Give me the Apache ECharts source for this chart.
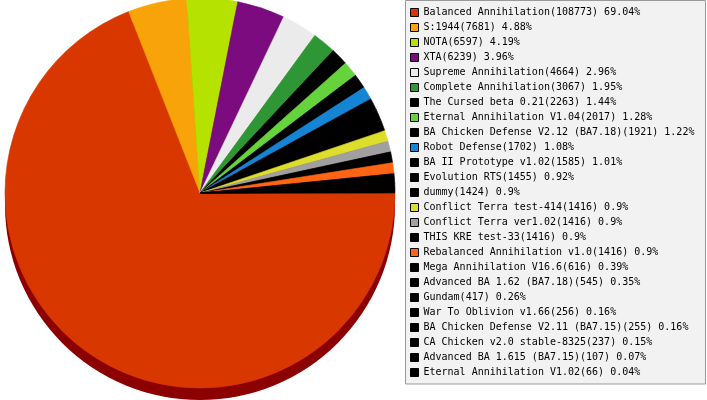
<!DOCTYPE html>
<html>
<head>
<meta charset="utf-8">
<script src="https://cdn.jsdelivr.net/npm/echarts@6/dist/echarts.min.js"></script>
<style>html,body{margin:0;padding:0;background:#fff}#c{width:707px;height:400px}</style>
</head>
<body>
<div id="c"></div>
<script>
const names = [
  'Balanced Annihilation', 'S:1944', 'NOTA', 'XTA', 'Supreme Annihilation',
  'Complete Annihilation', 'The Cursed beta 0.21', 'Eternal Annihilation V1.04',
  'BA Chicken Defense V2.12 (BA7.18)', 'Robot Defense', 'BA II Prototype v1.02',
  'Evolution RTS', 'dummy', 'Conflict Terra test-414', 'Conflict Terra ver1.02',
  'THIS KRE test-33', 'Rebalanced Annihilation v1.0', 'Mega Annihilation V16.6',
  'Advanced BA 1.62 (BA7.18)', 'Gundam', 'War To Oblivion v1.66',
  'BA Chicken Defense V2.11 (BA7.15)', 'CA Chicken v2.0 stable-8325',
  'Advanced BA 1.615 (BA7.15)', 'Eternal Annihilation V1.02'
];
const values = [
  108773, 7681, 6597, 6239, 4664, 3067, 2263, 2017, 1921, 1702, 1585, 1455, 1424,
  1416, 1416, 1416, 1416, 616, 545, 417, 256, 255, 237, 107, 66
];
const colors = [
  '#d93700', '#f9a30a', '#b6e200', '#7b0b7e', '#ebebeb', '#2e9634', '#000000',
  '#65d43c', '#000000', '#1385d4', '#000000', '#000000', '#000000', '#dddd2b',
  '#a0a0a0', '#000000', '#ff6512', '#000000', '#000000', '#000000', '#000000',
  '#000000', '#000000', '#000000', '#000000'
];

const total = values.reduce((a, b) => a + b, 0);
const byName = {};
names.forEach((n, i) => { byName[n] = values[i]; });

const chart = echarts.init(document.getElementById('c'), null, { renderer: 'canvas' });
chart.setOption({
  animation: false,
  graphic: [{
    type: 'rect', z: 0, silent: true,
    shape: { x: 405.5, y: 0.5, width: 300, height: 383.5 },
    style: { fill: '#f2f2f2', stroke: '#999999', lineWidth: 1 }
  }],
  legend: {
    orient: 'vertical',
    left: 410, top: 5, padding: 0, itemGap: 0,
    itemWidth: 8, itemHeight: 8, icon: 'rect',
    itemStyle: { borderColor: '#000', borderWidth: 1 },
    selectedMode: false,
    data: names,
    textStyle: { fontFamily: 'DejaVu Sans Mono', fontSize: 10, color: '#000', lineHeight: 15 },
    formatter: function (n) {
      const v = byName[n];
      const p = parseFloat((v / total * 100).toFixed(2));
      return n + '(' + v + ') ' + p + '%';
    }
  },
  series: [
    {
      type: 'pie', name: 'shadow', silent: true, z: 1,
      center: [200, 205], radius: 195, startAngle: 0, clockwise: true,
      label: { show: false }, labelLine: { show: false },
      itemStyle: { color: '#8b0000', borderWidth: 0 },
      data: [{ value: total, name: '__shadow' }]
    },
    {
      type: 'pie', name: 'mods', silent: true, z: 2,
      center: [200, 193], radius: 195, startAngle: 0, clockwise: true,
      avoidLabelOverlap: false,
      label: { show: false }, labelLine: { show: false },
      emphasis: { disabled: true },
      data: names.map((n, i) => ({
        name: n, value: values[i],
        itemStyle: { color: colors[i], borderColor: colors[i], borderWidth: 0.6 }
      }))
    }
  ]
});
</script>
</body>
</html>
